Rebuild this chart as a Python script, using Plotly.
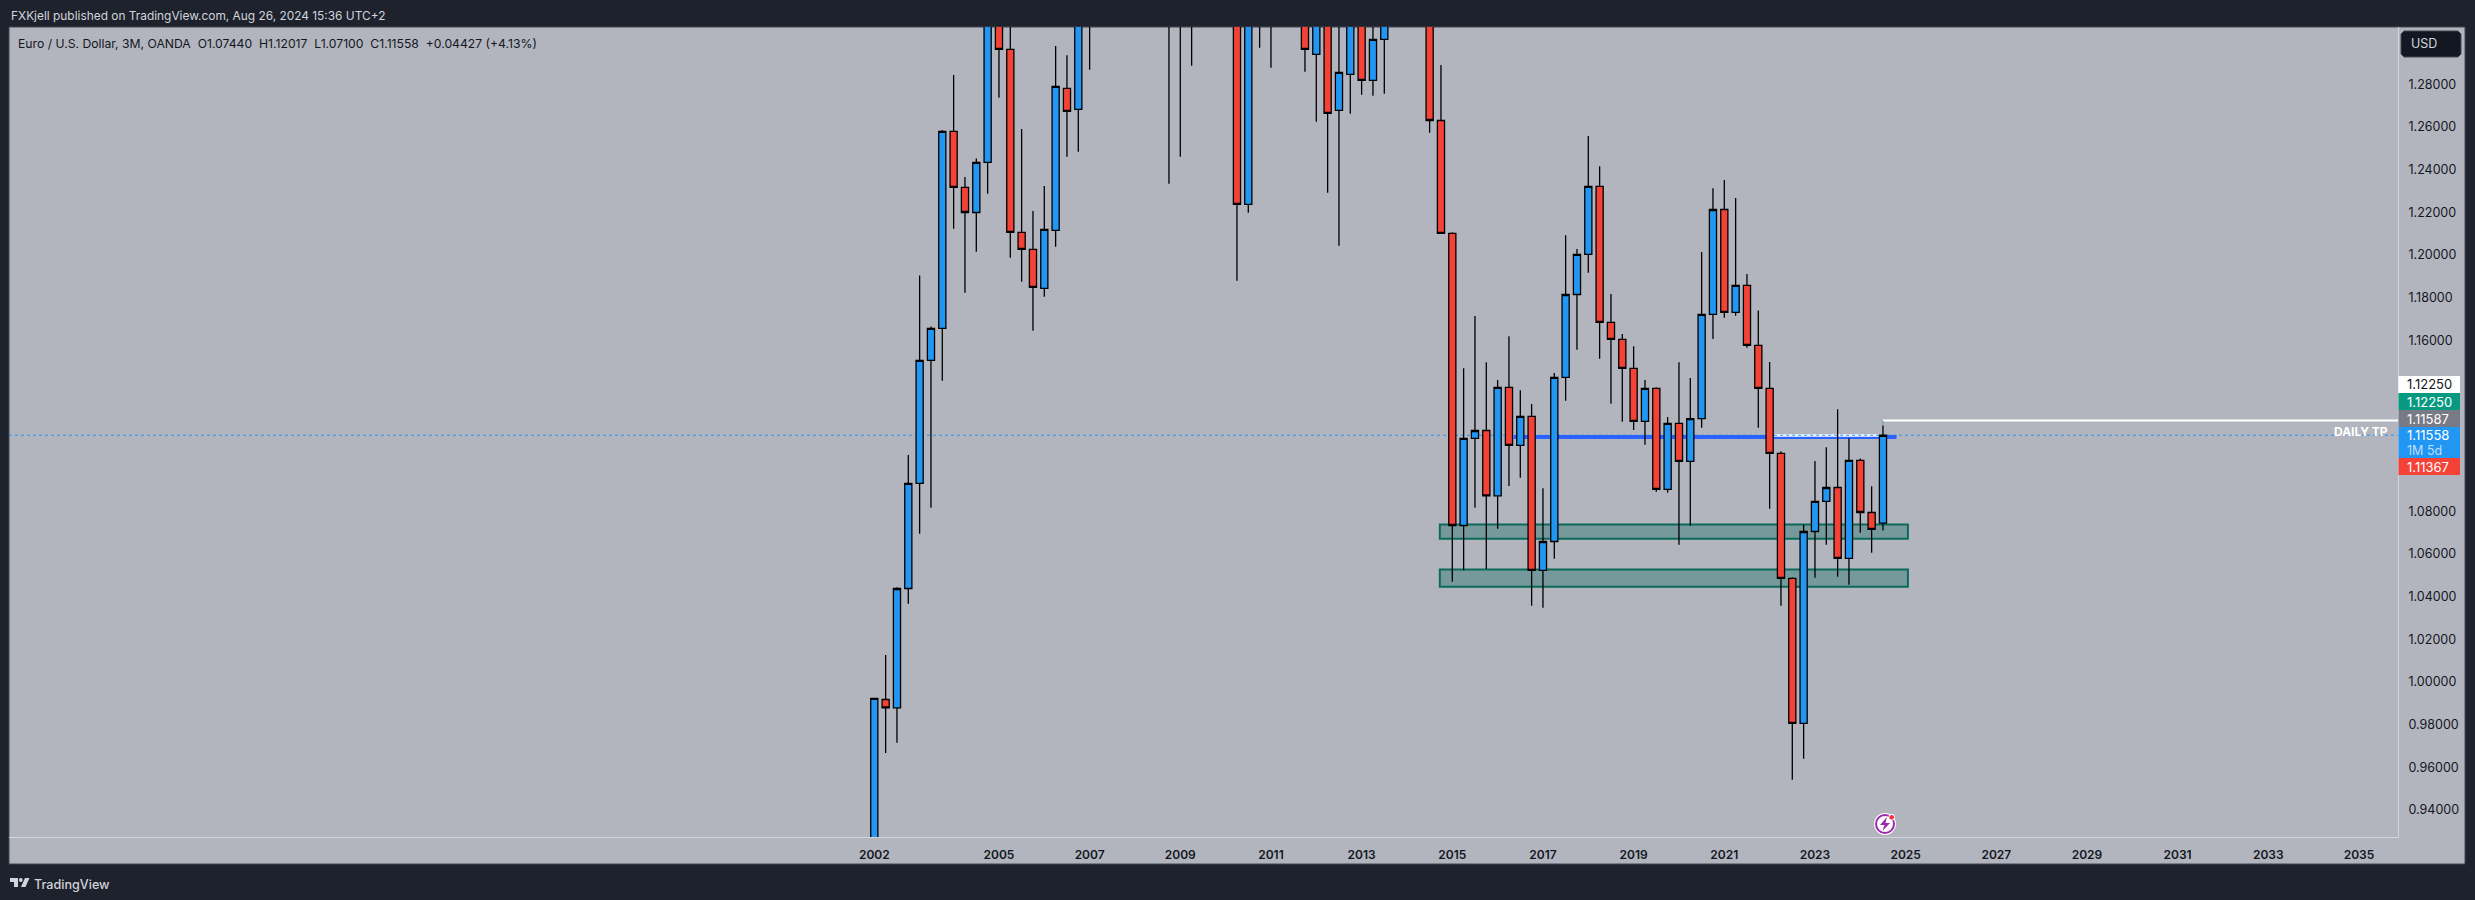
import plotly.graph_objects as go

# EUR/USD 3M candles, one row per quarter on an evenly spaced bar scale
bar_index = list(range(90))
opens = [0.8725, 0.9918, 0.9879, 1.0438, 1.0930, 1.1506, 1.1656, 1.2579, 1.2317, 1.2199,
         1.2434, 1.3554, 1.2963, 1.2106, 1.2026, 1.1844, 1.2115, 1.2780, 1.2682, 1.3200,
         1.3355, 1.3540, 1.4260, 1.4590, 1.5780, 1.5760, 1.4090, 1.3960, 1.3250, 1.4030,
         1.4640, 1.4330, 1.3510, 1.2237, 1.3630, 1.3380, 1.4160, 1.4500, 1.3390, 1.2940,
         1.3340, 1.2677, 1.2846, 1.3220, 1.2818, 1.3010, 1.3520, 1.3760, 1.3770, 1.3690,
         1.2630, 1.2101, 1.0733, 1.1141, 1.1178, 1.0872, 1.1380, 1.1108, 1.1244, 1.0523,
         1.0658, 1.1427, 1.1815, 1.2003, 1.2321, 1.1684, 1.1605, 1.1469, 1.1221, 1.1375,
         1.0902, 1.1211, 1.1033, 1.1234, 1.1722, 1.2213, 1.1731, 1.1858, 1.1577, 1.1375,
         1.1071, 1.0485, 0.9806, 1.0705, 1.0846, 1.0911, 1.0579, 1.1038, 1.0794, 1.0744]
highs = [0.9925, 1.0126, 1.0444, 1.1063, 1.1904, 1.1665, 1.2585, 1.2843, 1.2365, 1.2452,
         1.3667, 1.3580, 1.3100, 1.2590, 1.2206, 1.2323, 1.2979, 1.2936, 1.3300, 1.3420,
         1.3600, 1.4280, 1.4970, 1.5910, 1.6020, 1.6040, 1.4870, 1.4060, 1.4340, 1.4840,
         1.5150, 1.4580, 1.3820, 1.3700, 1.4280, 1.4250, 1.4940, 1.4550, 1.4240, 1.3490,
         1.3490, 1.3170, 1.3310, 1.3710, 1.3420, 1.3570, 1.3890, 1.3970, 1.3990, 1.3700,
         1.2890, 1.2107, 1.1470, 1.1714, 1.1498, 1.1414, 1.1620, 1.1367, 1.1302, 1.0908,
         1.1447, 1.2093, 1.2028, 1.2557, 1.2416, 1.1817, 1.1630, 1.1573, 1.1414, 1.1380,
         1.1241, 1.1498, 1.1424, 1.2014, 1.2313, 1.2351, 1.2267, 1.1911, 1.1740, 1.1499,
         1.1081, 1.0491, 1.0738, 1.1035, 1.1100, 1.1278, 1.1142, 1.1047, 1.0917, 1.12017]
lows = [0.8600, 0.9668, 0.9715, 1.0366, 1.0694, 1.0816, 1.1411, 1.2123, 1.1823, 1.2015,
        1.2287, 1.2737, 1.1987, 1.1875, 1.1645, 1.1805, 1.2039, 1.2460, 1.2484, 1.2868,
        1.3260, 1.3260, 1.3980, 1.4310, 1.5290, 1.3880, 1.2334, 1.2460, 1.2886, 1.3750,
        1.4220, 1.3320, 1.1879, 1.2198, 1.2971, 1.2877, 1.3960, 1.3360, 1.2858, 1.2624,
        1.2292, 1.2043, 1.2662, 1.2751, 1.2746, 1.2755, 1.3290, 1.3480, 1.3500, 1.2573,
        1.2098, 1.0469, 1.0524, 1.0816, 1.0529, 1.0718, 1.0918, 1.0957, 1.0357, 1.0348,
        1.0577, 1.1317, 1.1556, 1.1917, 1.1514, 1.1303, 1.1219, 1.1180, 1.1111, 1.0891,
        1.0886, 1.0643, 1.0732, 1.1191, 1.1606, 1.1706, 1.1716, 1.1566, 1.1191, 1.0811,
        1.0357, 0.9542, 0.9640, 1.0488, 1.0643, 1.0493, 1.0455, 1.0699, 1.0605, 1.07100]
closes = [0.9923, 0.9879, 1.0438, 1.0930, 1.1506, 1.1656, 1.2579, 1.2317, 1.2199, 1.2434,
          1.3554, 1.2963, 1.2106, 1.2026, 1.1848, 1.2120, 1.2790, 1.2673, 1.3200, 1.3355,
          1.3540, 1.4260, 1.4590, 1.5780, 1.5760, 1.4090, 1.3960, 1.3250, 1.4030, 1.4640,
          1.4330, 1.3510, 1.2237, 1.3630, 1.3380, 1.4160, 1.4500, 1.3390, 1.2963, 1.3340,
          1.2663, 1.2855, 1.3220, 1.2818, 1.3010, 1.3520, 1.3760, 1.3770, 1.3690, 1.2630,
          1.2101, 1.0733, 1.1141, 1.1178, 1.0872, 1.1380, 1.1108, 1.1244, 1.0523, 1.0658,
          1.1427, 1.1815, 1.2003, 1.2321, 1.1684, 1.1605, 1.1469, 1.1221, 1.1375, 1.0902,
          1.1211, 1.1033, 1.1234, 1.1722, 1.2213, 1.1731, 1.1858, 1.1577, 1.1375, 1.1071,
          1.0485, 0.9806, 1.0705, 1.0846, 1.0911, 1.0579, 1.1038, 1.0794, 1.0715, 1.11558]

year_ticks = [0, 11, 19, 27, 35, 43, 51, 59, 67, 75, 83, 91, 99, 107, 115, 123, 131]
year_labels = ["2002", "2005", "2007", "2009", "2011", "2013", "2015", "2017", "2019",
               "2021", "2023", "2025", "2027", "2029", "2031", "2033", "2035"]
price_ticks = [1.28, 1.26, 1.24, 1.22, 1.20, 1.18, 1.16, 1.08, 1.06, 1.04, 1.02, 1.00, 0.98, 0.96, 0.94]

last_price = 1.11558
daily_tp = 1.1225
blue_level = 1.1147
white_level = 1.1155
zone_upper = [1.0671, 1.0738]
zone_lower = [1.0446, 1.0527]

BG = "#b2b5be"
FRAME = "#1e222d"
INK = "#131722"
UP = "#2196f3"
DOWN = "#f44336"
FONT = "Inter, Roboto, sans-serif"

W, H = 2475, 900
PLOT_L, PLOT_R, PLOT_T, PLOT_B = 9, 2398, 27, 837
PANEL_R, PANEL_B = 2465, 864
BAR_PX = 34 / 3
BAR0_PX = 874.3


def px(x):
    return x / W


def py(y):
    return 1 - y / H


def rect(x0, y0, x1, y1, fill, layer="above", line=None):
    return dict(type="rect", xref="paper", yref="paper", x0=px(x0), x1=px(x1), y0=py(y0), y1=py(y1),
                fillcolor=fill, line=line or dict(width=0), layer=layer)


def path(d, fill, line=None):
    # d holds pixel pairs, converted to paper coordinates
    out = []
    for cmd, x, y in d:
        out.append(f"{cmd} {px(x):.6f} {py(y):.6f}")
    return dict(type="path", xref="paper", yref="paper", path=" ".join(out) + " Z",
                fillcolor=fill, line=line or dict(width=0), layer="above")


def circle(cx, cy, r, fill, line=None):
    return dict(type="circle", xref="paper", yref="paper", x0=px(cx - r), x1=px(cx + r),
                y0=py(cy + r), y1=py(cy - r), fillcolor=fill, line=line or dict(width=0), layer="above")


def label(x, y, text, color, size, anchor="left", weight=400):
    return dict(xref="paper", yref="paper", x=px(x), y=py(y), text=text, showarrow=False,
                xanchor=anchor, yanchor="middle", align=anchor,
                font=dict(family=FONT, size=size, color=color, weight=weight))


def hline(x0, x1, level, color, width, dash="solid"):
    return dict(type="line", xref="x", yref="y", x0=x0, x1=x1, y0=level, y1=level,
                line=dict(color=color, width=width, dash=dash), layer="below")


x_min = (PLOT_L - BAR0_PX) / BAR_PX
x_max = (PLOT_R - BAR0_PX) / BAR_PX
y_top = 1.28 + (84.2 - PLOT_T) / 2135
y_bottom = 1.28 - (PLOT_B - 84.2) / 2135

fig = go.Figure()
fig.add_trace(go.Candlestick(
    x=bar_index, open=opens, high=highs, low=lows, close=closes,
    increasing=dict(fillcolor=UP, line=dict(color="#000000", width=1.3)),
    decreasing=dict(fillcolor=DOWN, line=dict(color="#000000", width=1.3)),
    showlegend=False,
))

shapes = [
    rect(9, 27, PANEL_R, PANEL_B, BG, layer="below", line=dict(color="#434651", width=1)),
    hline(x_min, x_max, last_price, "#2196f3", 1, "dot"),
    hline(56.4, 90.2, blue_level, "#2962ff", 4),
    hline(79.4, 88.7, white_level, "#ffffff", 2.5),
    hline(79.4, 88.7, last_price, "#2196f3", 1, "dot"),
    hline(89, x_max, daily_tp, "#ffffff", 2),
    dict(type="line", xref="x", yref="y", x0=89, x1=89, y0=1.1222, y1=1.1205,
         line=dict(color="#78a7a5", width=1.5), layer="below"),
]
for z in (zone_upper, zone_lower):
    shapes.append(dict(type="rect", xref="x", yref="y", x0=49.9, x1=91.2, y0=z[0], y1=z[1],
                       fillcolor="rgba(10,105,95,0.36)", line=dict(color="#0b6b5a", width=2), layer="below"))

# price scale boxes and USD button
shapes += [
    rect(2398.5, 376, 2460, 393, "#ffffff"),
    rect(2398.5, 393, 2460, 410, "#089981"),
    rect(2398.5, 410, 2460, 427, "#787b86"),
    rect(2398.5, 427, 2460, 458, "#2196f3"),
    rect(2398.5, 458, 2460, 475, "#f44336"),
    path([("M", 2404, 31), ("L", 2458, 31), ("L", 2461, 34), ("L", 2461, 54), ("L", 2458, 57),
          ("L", 2404, 57), ("L", 2401, 54), ("L", 2401, 34)], INK, dict(color="#434651", width=1)),
    # TradingView logo
    path([("M", 10, 878), ("L", 18, 878), ("L", 18, 887), ("L", 14, 887), ("L", 14, 882), ("L", 10, 882)], "#d1d4dc"),
    circle(20.8, 880, 1.9, "#d1d4dc"),
    path([("M", 25, 878), ("L", 29.5, 878), ("L", 25.5, 887), ("L", 21, 887)], "#d1d4dc"),
    # alert icon
    circle(1885, 824, 11, "#ffffff"),
    circle(1885, 824, 9, "#ffffff", dict(color="#9c27b0", width=2)),
    path([("M", 1887, 817), ("L", 1880, 825), ("L", 1884.5, 825), ("L", 1882.5, 831),
          ("L", 1890, 823), ("L", 1885.5, 823)], "#9c27b0"),
    circle(1891.7, 817.3, 3.2, "#ffffff"),
    circle(1891.7, 817.3, 2.4, "#f23645"),
]

annotations = [
    label(9, 15.5, "FXKjell published on TradingView.com, Aug 26, 2024 15:36 UTC+2", "#d1d4dc", 11.9),
    label(16, 43, "Euro / U.S. Dollar, 3M, OANDA&nbsp;&nbsp;O1.07440&nbsp;&nbsp;H1.12017&nbsp;&nbsp;L1.07100&nbsp;&nbsp;C1.11558&nbsp;&nbsp;+0.04427 (+4.13%)", INK, 12.2),
    label(2409, 44, "USD", "#d1d4dc", 12.5),
    label(32, 884, "TradingView", "#d1d4dc", 12.6, weight=500),
    label(2390, 431, "DAILY TP", "#ffffff", 12, anchor="right", weight=700),
    label(2405, 384.5, "1.12250", INK, 13),
    label(2405, 401.5, "1.12250", "#ffffff", 13),
    label(2405, 418.5, "1.11587", "#ffffff", 13),
    label(2405, 435.5, "1.11558", "#ffffff", 13),
    label(2405, 450, "1M 5d", "#bcdffb", 12.5),
    label(2405, 466.5, "1.11367", "#ffffff", 13),
]

fig.update_layout(
    width=W, height=H, autosize=False,
    margin=dict(l=0, r=0, t=0, b=0),
    paper_bgcolor=FRAME,
    plot_bgcolor=BG,
    shapes=shapes,
    annotations=annotations,
    hovermode=False,
    boxgap=0.37,
    boxgroupgap=0,
    xaxis=dict(
        domain=[px(PLOT_L), px(PLOT_R)], range=[x_min, x_max], rangeslider_visible=False,
        tickmode="array", tickvals=year_ticks, ticktext=year_labels, ticks="", showgrid=False,
        zeroline=False, showline=True, linecolor="#d1d4dc", linewidth=1,
        tickfont=dict(family=FONT, size=12, color=INK, weight=600), ticklabelstandoff=7,
    ),
    yaxis=dict(
        domain=[py(PLOT_B), py(PLOT_T)], range=[y_bottom, y_top], side="right",
        tickmode="array", tickvals=price_ticks, ticktext=[f"{v:.5f}" for v in price_ticks],
        ticks="", showgrid=False, zeroline=False, showline=True, linecolor="#d1d4dc", linewidth=1,
        tickfont=dict(family=FONT, size=12.5, color=INK), ticklabelstandoff=7,
    ),
)

fig.write_html("out.html", config={"displayModeBar": False},
               post_script="document.body.style.margin='0';document.body.style.overflow='hidden';")
